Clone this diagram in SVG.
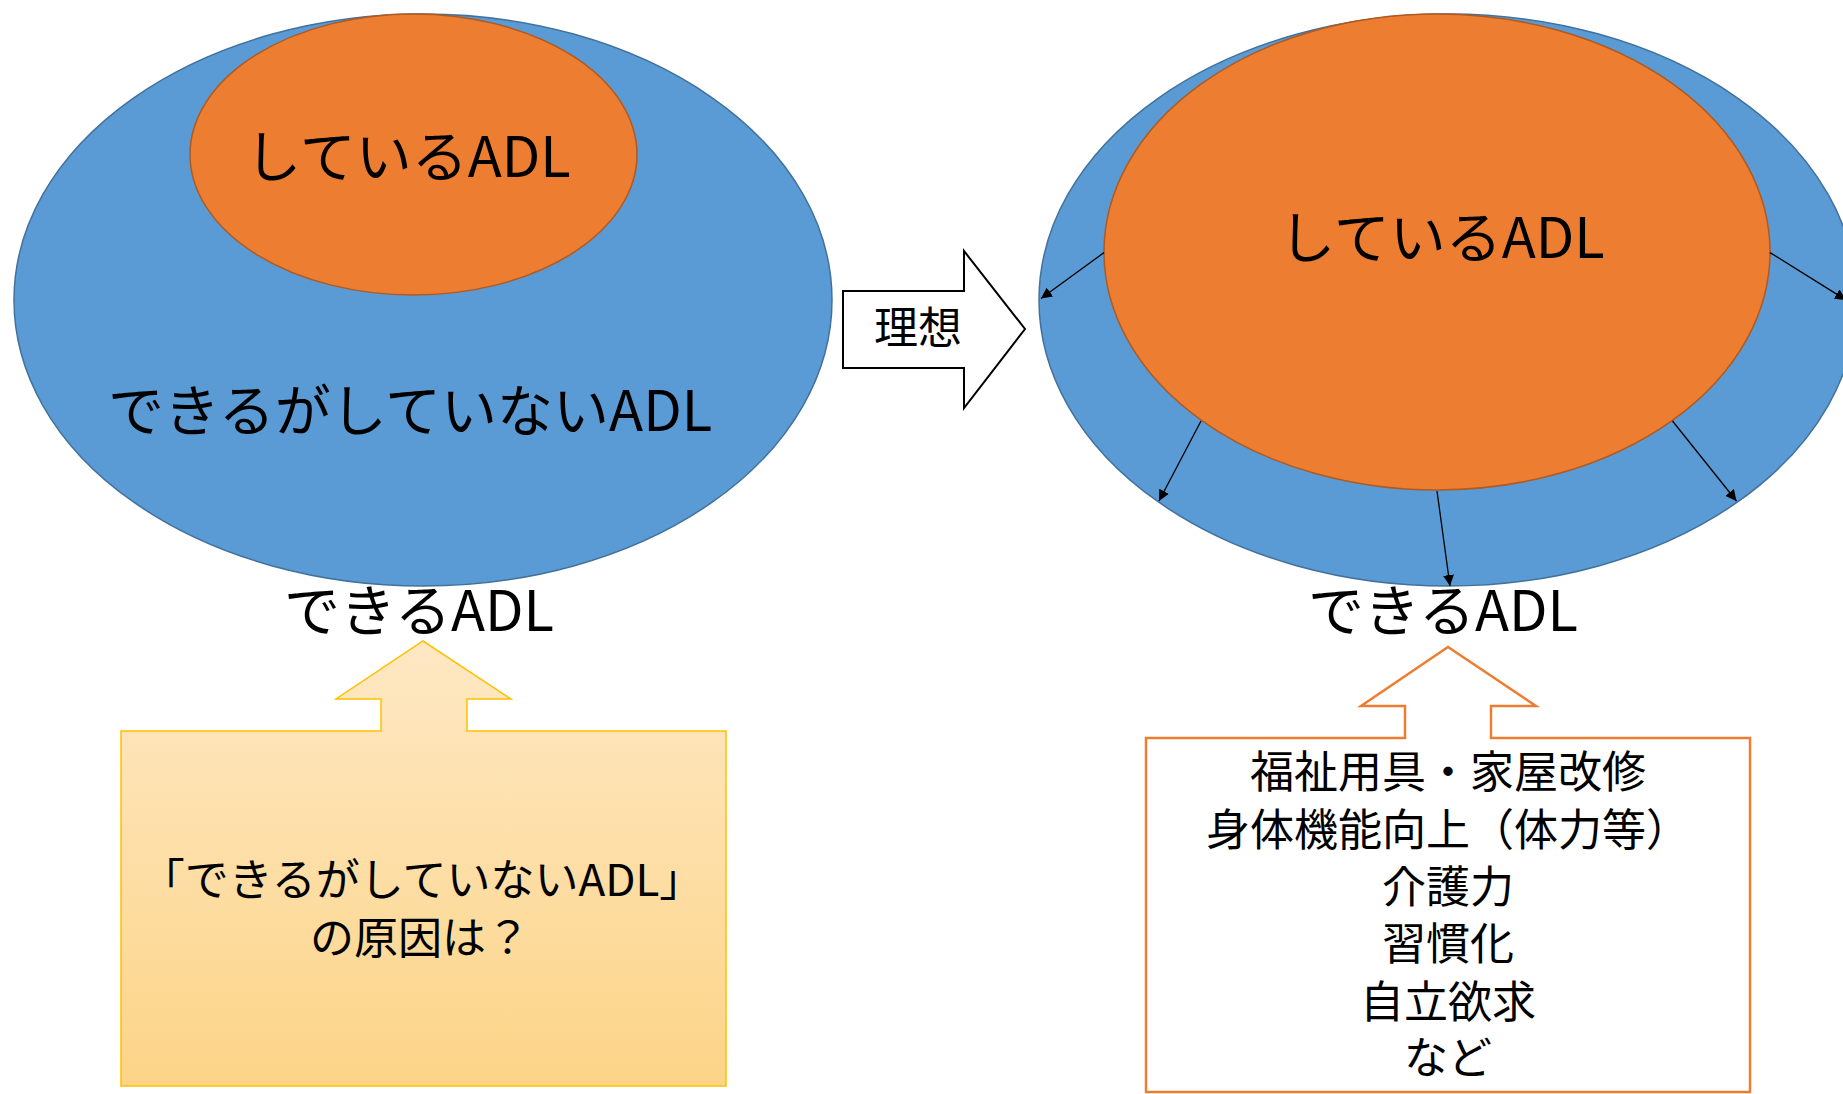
<svg xmlns="http://www.w3.org/2000/svg" width="1843" height="1094" viewBox="0 0 1843 1094">
<style>
.t{font-family:"Noto Sans CJK JP","Noto Sans CJK SC",sans-serif;fill:#000;text-anchor:middle}
.blue{fill:#5B9BD5;stroke:#41719C;stroke-width:1.5}
.orange{fill:#ED7D31;stroke:#AE5A21;stroke-width:1.5}
.conn{stroke:#000;stroke-width:1.3;fill:none;marker-end:url(#ah)}
</style>
<defs>
<marker id="ah" viewBox="0 0 10 10" refX="10" refY="5" markerWidth="11" markerHeight="11" markerUnits="userSpaceOnUse" orient="auto">
<path d="M0,0 L10,5 L0,10 z" fill="#000"/>
</marker>
<linearGradient id="gold" x1="0" y1="0" x2="0" y2="1" gradientUnits="objectBoundingBox">
<stop offset="0" stop-color="#FEE8C4"/>
<stop offset="1" stop-color="#FCD487"/>
</linearGradient>
</defs>
<rect width="1843" height="1094" fill="#fff"/>

<g id="left-outer">
<ellipse class="blue" cx="423" cy="300" rx="409" ry="286"/>
<text class="t" x="410" y="431" font-size="56">できるがしていないADL</text>
</g>
<g id="left-inner">
<ellipse class="orange" cx="413.5" cy="154.5" rx="223.5" ry="140.5"/>
<text class="t" x="408" y="177" font-size="56">しているADL</text>
</g>
<g id="left-label">
<text class="t" x="419" y="631" font-size="56">できるADL</text>
</g>

<g id="ideal-arrow">
<path d="M843,291 L964,291 L964,251 L1025,329 L964,408 L964,368 L843,368 Z" fill="#fff" stroke="#000" stroke-width="2"/>
<text class="t" x="918" y="344" font-size="44">理想</text>
</g>

<g id="right-outer">
<ellipse class="blue" cx="1448" cy="300" rx="409" ry="286"/>
</g>
<g id="right-inner">
<ellipse class="orange" cx="1437" cy="252" rx="333" ry="238"/>
<text class="t" x="1442" y="258" font-size="56">しているADL</text>
</g>

<g id="connectors">
<line class="conn" x1="1104" y1="252.6" x2="1041" y2="298.5"/>
<line class="conn" x1="1770" y1="252.6" x2="1846" y2="300"/>
<line class="conn" x1="1201" y1="421" x2="1159" y2="501"/>
<line class="conn" x1="1672.5" y1="421" x2="1736.5" y2="501"/>
<line class="conn" x1="1437" y1="491" x2="1450" y2="586"/>
</g>

<g id="right-label">
<text class="t" x="1443" y="631" font-size="56">できるADL</text>
</g>

<g id="cause-callout">
<path d="M121,731 L381,731 L381,699 L336,699 L423,641 L511,699 L467,699 L467,731 L726,731 L726,1086 L121,1086 Z" fill="url(#gold)" stroke="#FFC000" stroke-width="1.5"/>
<text class="t" x="422" y="896" font-size="44">「できるがしていないADL」</text>
<text class="t" x="420" y="954" font-size="44">の原因は？</text>
</g>

<g id="factor-callout">
<path d="M1146,738 L1405,738 L1405,706 L1361,706 L1448,647 L1536,706 L1491,706 L1491,738 L1750,738 L1750,1092 L1146,1092 Z" fill="#fff" stroke="#ED7D31" stroke-width="2.5"/>
<text class="t" x="1448" y="788" font-size="44">福祉用具・家屋改修</text>
<text class="t" x="1448" y="846" font-size="44">身体機能向上（体力等）</text>
<text class="t" x="1448" y="903" font-size="44">介護力</text>
<text class="t" x="1448" y="960" font-size="44">習慣化</text>
<text class="t" x="1448" y="1018" font-size="44">自立欲求</text>
<text class="t" x="1448" y="1074" font-size="44">など</text>
</g>
</svg>
